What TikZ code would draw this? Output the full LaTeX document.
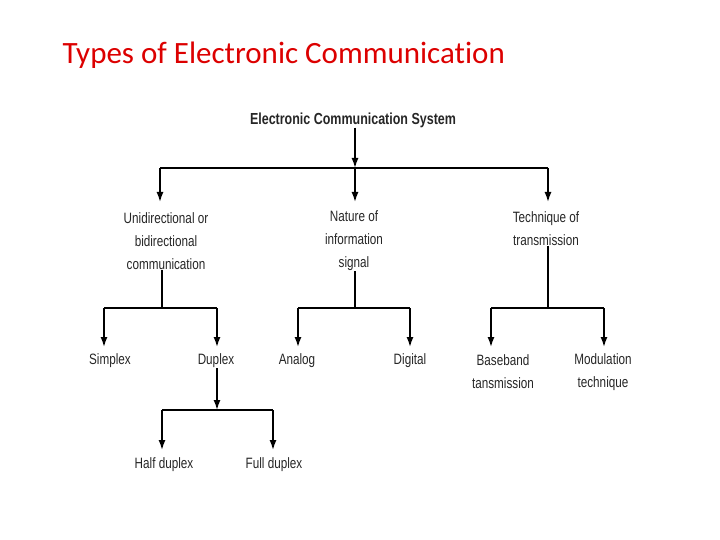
\documentclass[tikz,border=0pt]{standalone}
\usepackage{fontspec}
\setmainfont{Liberation Sans}
\newfontfamily\titlefont[Ligatures={NoCommon,NoRare}]{Carlito}
\usetikzlibrary{arrows.meta}
\begin{document}
\begin{tikzpicture}[x=1pt,y=-1pt,
  lbl/.style={font=\fontsize{15}{23}\selectfont,align=center,inner sep=0pt,text=black!85,xscale=0.78},
  arr/.style={line width=1.5pt,-{Latex[length=10pt,width=7pt]}},
  ln/.style={line width=1.5pt}]
\useasboundingbox (0,0) rectangle (720,540);
\node[anchor=west,text={rgb,255:red,220;green,0;blue,0},font=\titlefont\fontsize{31}{34}\selectfont] (title) at (59,55) {Types of Electronic Communication};
\node[lbl,font=\bfseries\fontsize{16}{18}\selectfont] (ecs) at (353,120) {Electronic Communication System};
\coordinate (j0) at (355,168);
\coordinate (h0l) at (160,168); \coordinate (h0r) at (548,168);
\node[lbl] (uni) at (166,241) {Unidirectional or\\bidirectional\\communication};
\node[lbl] (nat) at (354,241) {Nature of\\information\\signal};
\node[lbl] (tec) at (546,229) {Technique of\\transmission};
\draw[arr] (ecs.south -| j0) -- (j0);
\draw[ln] (h0l) -- (h0r);
\draw[arr] (h0l) -- (160,202);
\draw[arr] (j0) -- (355,202);
\draw[arr] (h0r) -- (548,202);
% left
\coordinate (j1) at (162,308);
\draw[ln] (uni.south -| j1) -- (j1);
\draw[ln] (104,308) -- (217,308);
\node[lbl] (sim) at (110,361) {Simplex};
\node[lbl] (dup) at (216,361) {Duplex};
\draw[arr] (104,308) -- (104,347);
\draw[arr] (217,308) -- (217,347);
% middle
\coordinate (j2) at (355,308);
\draw[ln] (nat.south -| j2) -- (j2);
\draw[ln] (298,308) -- (410,308);
\node[lbl] (ana) at (297,361) {Analog};
\node[lbl] (dig) at (410,361) {Digital};
\draw[arr] (298,308) -- (298,347);
\draw[arr] (410,308) -- (410,347);
% right
\coordinate (j3) at (548,308);
\draw[ln] (tec.south -| j3) -- (j3);
\draw[ln] (491,308) -- (604,308);
\node[lbl] (bas) at (503,372) {Baseband\\tansmission};
\node[lbl] (mod) at (603,372) {Modulation\\technique};
\draw[arr] (491,308) -- (491,347);
\draw[arr] (604,308) -- (604,347);
% duplex
\coordinate (j4) at (217,410);
\draw[arr] (dup.south -| j4) -- (j4);
\draw[ln] (162,410) -- (273,410);
\node[lbl] (half) at (164,465) {Half duplex};
\node[lbl] (full) at (274,465) {Full duplex};
\draw[arr] (162,410) -- (162,450);
\draw[arr] (273,410) -- (273,450);
\end{tikzpicture}
\end{document}
